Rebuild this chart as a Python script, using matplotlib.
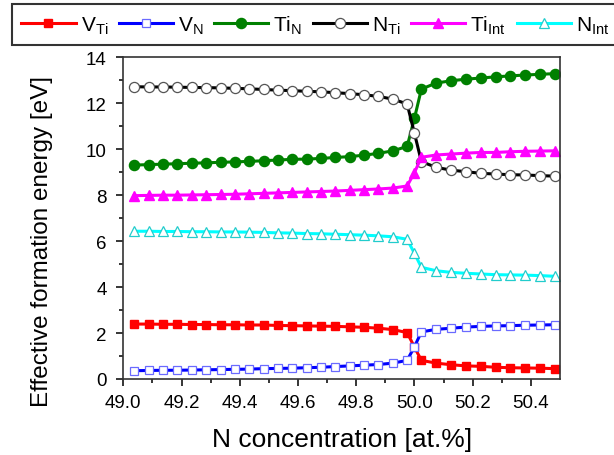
import matplotlib.pyplot as plt
import numpy as np

plt.rcParams['font.family'] = ['Liberation Sans', 'DejaVu Sans']
plt.rcParams['mathtext.default'] = 'regular'

# N concentration (at.%): stoichiometric point at 50.0 in the middle
x_left = [49.038, 49.087, 49.137, 49.186, 49.235, 49.285, 49.334, 49.383, 49.432, 49.482,
          49.531, 49.580, 49.630, 49.679, 49.728, 49.778, 49.827, 49.876, 49.926, 49.975]
x_mid = [50.0]
x_right = [50.024, 50.075, 50.126, 50.178, 50.229, 50.279, 50.328, 50.380, 50.431, 50.482]
x = np.array(x_left + x_mid + x_right)

# effective formation energies [eV]
v_ti = [2.39, 2.39, 2.38, 2.38, 2.37, 2.37, 2.36, 2.36, 2.35, 2.35,
        2.33, 2.32, 2.31, 2.30, 2.29, 2.27, 2.25, 2.21, 2.15, 2.02,
        1.39,
        0.81, 0.69, 0.62, 0.57, 0.55, 0.51, 0.49, 0.48, 0.47, 0.45]
v_n = [0.36, 0.37, 0.38, 0.38, 0.39, 0.40, 0.41, 0.42, 0.43, 0.45,
       0.46, 0.47, 0.49, 0.51, 0.54, 0.57, 0.60, 0.63, 0.69, 0.81,
       1.40,
       2.05, 2.16, 2.21, 2.26, 2.29, 2.31, 2.32, 2.34, 2.35, 2.36]
ti_n = [9.31, 9.33, 9.35, 9.37, 9.39, 9.41, 9.43, 9.45, 9.47, 9.50,
        9.53, 9.56, 9.57, 9.60, 9.64, 9.68, 9.74, 9.82, 9.93, 10.12,
        11.34,
        12.62, 12.88, 12.98, 13.05, 13.10, 13.15, 13.19, 13.23, 13.26, 13.29]
n_ti = [12.72, 12.71, 12.71, 12.70, 12.69, 12.68, 12.67, 12.65, 12.63, 12.60,
        12.57, 12.55, 12.52, 12.50, 12.46, 12.42, 12.37, 12.30, 12.18, 11.97,
        10.70,
        9.46, 9.21, 9.09, 9.02, 8.95, 8.92, 8.89, 8.88, 8.85, 8.83]
ti_int = [7.98, 7.99, 8.00, 8.00, 8.01, 8.02, 8.03, 8.04, 8.06, 8.08,
          8.10, 8.12, 8.14, 8.16, 8.18, 8.21, 8.24, 8.27, 8.31, 8.40,
          8.98,
          9.65, 9.75, 9.79, 9.83, 9.86, 9.86, 9.89, 9.91, 9.92, 9.93]
n_int = [6.43, 6.43, 6.42, 6.42, 6.41, 6.41, 6.40, 6.40, 6.39, 6.38,
         6.36, 6.35, 6.33, 6.32, 6.30, 6.28, 6.26, 6.23, 6.19, 6.08,
         5.47,
         4.86, 4.71, 4.64, 4.60, 4.57, 4.54, 4.53, 4.52, 4.50, 4.47]

labels = [r'V$_{Ti}$', r'V$_{N}$', r'Ti$_{N}$', r'N$_{Ti}$', r'Ti$_{Int}$', r'N$_{Int}$']

fig = plt.figure(figsize=(6.14, 4.56), dpi=100)
ax = fig.add_axes([0.2008, 0.1667, 0.7112, 0.7054])

lw = 2.2
ax.plot(x, v_ti, color='red', lw=lw, marker='s', ms=6.3, mfc='red', mec='red', label=labels[0])
ax.plot(x, v_n, color='blue', lw=lw, marker='s', ms=6.3, mfc='white', mec='#6a6aff', mew=0.9, label=labels[1])
ax.plot(x, ti_n, color='green', lw=lw, marker='o', ms=7.3, mfc='green', mec='green', label=labels[2])
ax.plot(x, n_ti, color='black', lw=lw, marker='o', ms=7.3, mfc='white', mec='#555555', mew=0.9, label=labels[3])
ax.plot(x, ti_int, color='magenta', lw=lw, marker='^', ms=7.3, mfc='magenta', mec='magenta', label=labels[4])
ax.plot(x, n_int, color='cyan', lw=lw, marker='^', ms=7.8, mfc='white', mec='#22cccc', mew=0.9, label=labels[5])

ax.set_xlim(49.0, 50.5)
ax.set_ylim(0, 14)
ax.set_xticks(np.arange(49.0, 50.41, 0.2))
ax.set_xticks(np.arange(49.1, 50.5, 0.2), minor=True)
ax.set_yticks(np.arange(0, 14.1, 2))
ax.set_yticks(np.arange(1, 14, 2), minor=True)
ax.xaxis.set_major_formatter(plt.FormatStrFormatter('%.1f'))

ax.tick_params(which='major', direction='out', length=5, width=1.1, labelsize=13.5,
               top=False, right=False)
ax.tick_params(axis='y', which='major', pad=7)
ax.tick_params(axis='x', which='major', pad=6)
ax.tick_params(which='minor', direction='out', length=3, width=1.1, top=False, right=False)
for s in ax.spines.values():
    s.set_linewidth(1.2)
    s.set_color('#333333')

ax.set_xlabel('N concentration [at.%]', fontsize=19, labelpad=11)
ax.set_ylabel('Effective formation energy [eV]', fontsize=17.5)
ax.yaxis.set_label_coords(-0.16, 0.432)

# legend row across the top; frame runs off the right edge
leg = fig.legend(loc='upper left', bbox_to_anchor=(12 / 614, 1 - 5 / 456), ncol=6,
                 fontsize=15, frameon=True, fancybox=False, handlelength=2.6,
                 handletextpad=0.25, columnspacing=0.5, borderpad=0.45, borderaxespad=0)
leg.get_frame().set_edgecolor('black')
leg.get_frame().set_linewidth(1.5)

fig.savefig('out.png', dpi=100)
